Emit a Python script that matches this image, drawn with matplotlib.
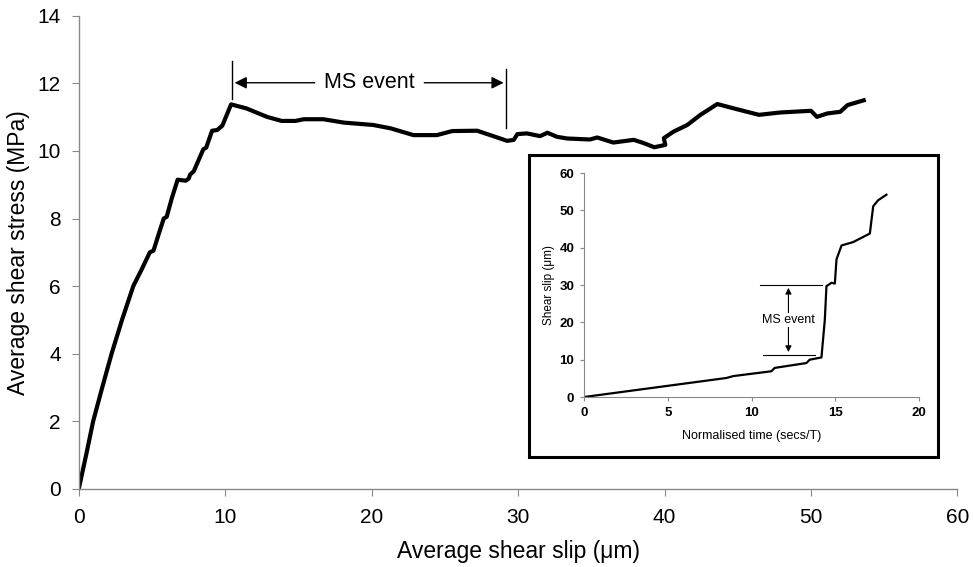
import matplotlib.pyplot as plt
from matplotlib.patches import Rectangle

plt.rcParams['font.family'] = ['Liberation Sans', 'DejaVu Sans']

# -----------------------------
# Data
# -----------------------------
slip = [0, 0.5, 0.98, 1.6, 2.24, 2.95, 3.72, 4.3, 4.85, 5.1, 5.5, 5.8, 6.0, 6.35, 6.75,
        7.3, 7.5, 7.6, 7.85, 8.5, 8.7, 9.1, 9.45, 9.8, 10.4, 11.45, 12.85, 13.85, 14.8,
        15.35, 16.7, 18.1, 20.1, 21.3, 22.85, 24.45, 25.5, 27.2, 28.3, 29.25, 29.7,
        29.95, 30.6, 31.5, 32.0, 32.65, 33.35, 34.9, 35.4, 36.5, 37.9, 38.6, 39.3,
        40.05, 39.95, 40.6, 41.55, 42.45, 43.6, 45.0, 46.45, 47.9, 50.0, 50.4, 51.1,
        52.0, 52.5, 53.6]
stress = [0, 1.0, 2.0, 3.0, 4.0, 5.0, 6.0, 6.5, 7.0, 7.05, 7.6, 8.0, 8.05, 8.6, 9.15,
          9.12, 9.18, 9.3, 9.4, 10.05, 10.1, 10.6, 10.62, 10.75, 11.38, 11.26, 11.01,
          10.89, 10.89, 10.94, 10.94, 10.84, 10.77, 10.67, 10.47, 10.47, 10.59, 10.6,
          10.44, 10.3, 10.33, 10.5, 10.52, 10.44, 10.54, 10.42, 10.37, 10.34, 10.4,
          10.25, 10.33, 10.23, 10.11, 10.18, 10.38, 10.57, 10.77, 11.07, 11.39, 11.23,
          11.07, 11.14, 11.19, 11.01, 11.11, 11.16, 11.36, 11.5]

norm_time = [0, 8.5, 8.9, 11.18, 11.38, 13.27, 13.47, 14.17, 14.37, 14.47, 14.57,
             14.77, 14.97, 15.07, 15.37, 16.06, 17.06, 17.26, 17.55, 18.05]
inset_slip = [0, 5.1, 5.6, 6.9, 7.8, 9.1, 10.0, 10.6, 20.6, 29.7, 30.0,
              30.6, 30.4, 36.9, 40.6, 41.5, 43.8, 51.1, 52.7, 54.2]

main_xticks = [0, 10, 20, 30, 40, 50, 60]
main_yticks = [0, 2, 4, 6, 8, 10, 12, 14]
inset_xticks = [0, 5, 10, 15, 20]
inset_yticks = [0, 10, 20, 30, 40, 50, 60]

# -----------------------------
# Main plot
# -----------------------------
fig = plt.figure(figsize=(9.73, 5.67), dpi=100)
ax = fig.add_axes([0.081, 0.138, 0.903, 0.834])
ax.plot(slip, stress, color='black', lw=3, solid_joinstyle='round')
ax.set_xlim(0, 60)
ax.set_ylim(0, 14)
ax.set_xticks(main_xticks)
ax.set_yticks(main_yticks)
for s in ['top', 'right']:
    ax.spines[s].set_visible(False)
for s in ['left', 'bottom']:
    ax.spines[s].set_color('#888888')
    ax.spines[s].set_linewidth(1)
ax.tick_params(direction='out', length=5, color='#888888', labelsize=15)
ax.tick_params(axis='x', pad=9)
ax.tick_params(axis='y', pad=8)
ax.set_xlabel('Average shear slip (\u03bcm)', fontsize=16.5, labelpad=9)
ax.set_ylabel('Average shear stress (MPa)', fontsize=16.5, labelpad=5)

# MS event marker on main plot
ax.plot([10.45, 10.45], [11.55, 12.65], color='black', lw=1)
ax.plot([29.2, 29.2], [10.68, 12.42], color='black', lw=1)
ax.text(19.85, 12.02, 'MS event', fontsize=15.5, ha='center', va='center')
ax.annotate('', xy=(10.45, 12.02), xytext=(16.3, 12.02),
            arrowprops=dict(arrowstyle='-|>', color='black', lw=1, mutation_scale=18))
ax.annotate('', xy=(29.2, 12.02), xytext=(23.4, 12.02),
            arrowprops=dict(arrowstyle='-|>', color='black', lw=1, mutation_scale=18))

# -----------------------------
# Inset
# -----------------------------
fig.patches.append(Rectangle((0.5437, 0.194), 0.4203, 0.5326, transform=fig.transFigure,
                             fill=True, facecolor='white', edgecolor='black', lw=2.2,
                             zorder=2))
ins = fig.add_axes([0.6003, 0.2998, 0.3443, 0.3950], zorder=3)
ins.patch.set_alpha(0)
ins.plot(norm_time, inset_slip, color='black', lw=1.6)
ins.set_xlim(0, 20)
ins.set_ylim(0, 60)
ins.set_xticks(inset_xticks)
ins.set_yticks(inset_yticks)
for s in ['top', 'right']:
    ins.spines[s].set_visible(False)
for s in ['left', 'bottom']:
    ins.spines[s].set_color('#888888')
    ins.spines[s].set_linewidth(0.8)
ins.tick_params(direction='out', length=3, color='#888888', labelsize=9.5, pad=4)
for lab in ins.get_xticklabels() + ins.get_yticklabels():
    lab.set_fontweight('bold')
ins.set_xlabel('Normalised time (secs/T)', fontsize=9, labelpad=8)
ins.set_ylabel('Shear slip (\u03bcm)', fontsize=8.5, labelpad=3)

# MS event marker in inset
ins.plot([10.5, 14.2], [30, 30], color='black', lw=0.8)
ins.plot([10.7, 13.8], [11.3, 11.3], color='black', lw=0.8)
ins.annotate('', xy=(12.2, 30), xytext=(12.2, 11.3),
             arrowprops=dict(arrowstyle='<|-|>', color='black', lw=0.8, mutation_scale=9))
ins.text(12.2, 20.6, 'MS event', fontsize=9, ha='center', va='center',
         bbox=dict(facecolor='white', edgecolor='none', pad=1))

fig.savefig('out.png', dpi=100)
